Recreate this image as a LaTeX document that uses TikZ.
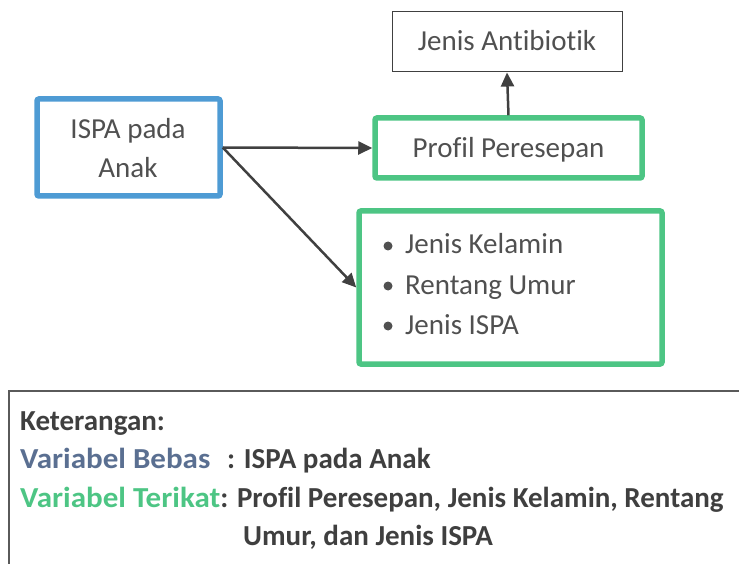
\documentclass[tikz,border=0pt]{standalone}
\usepackage{fontspec}
\setmainfont{Carlito}[RawFeature={-liga;-clig;-dlig}]
\newfontfamily\legvar{Carlito}[FakeStretch=1.07, RawFeature={-liga;-clig;-dlig}]
\usetikzlibrary{arrows.meta}
\definecolor{bblue}{HTML}{4E9BD4}
\definecolor{bgreen}{HTML}{4DC584}
\definecolor{txtc}{HTML}{505050}
\definecolor{legc}{HTML}{3F3F3F}
\definecolor{slate}{HTML}{5A6F91}
\definecolor{arrc}{HTML}{404040}
\definecolor{framec}{HTML}{5A5A5A}
\tikzset{
  bluebox/.style={draw=bblue, line width=5.5pt, rounded corners=2pt},
  greenbox/.style={draw=bgreen, line width=5.5pt, rounded corners=2pt},
  thinbox/.style={draw=arrc, line width=1pt},
  lbl/.style={inner sep=0pt, anchor=base, text=txtc, font=\fontsize{29}{38}\selectfont},
  lbll/.style={lbl, anchor=base west},
  leg/.style={inner sep=0pt, anchor=base west, text=legc, font=\fontsize{29}{38}\selectfont\bfseries},
  bul/.style={circle, fill=txtc, inner sep=0pt, minimum size=9pt},
  conn/.style={draw=arrc, line width=2.5pt, -{Triangle[length=14pt,width=13pt]}}
}
\newcommand{\varlbl}[2]{{\color{#1}\legvar\bfseries #2}}
\begin{document}
\begin{tikzpicture}[x=1pt,y=-1pt]
\useasboundingbox (0,0) rectangle (739,564);
% boxes
\node[bluebox, minimum width=183pt, minimum height=97pt] (ispa) at (128.5,147.5) {};
\node[greenbox, minimum width=267pt, minimum height=60pt] (prof) at (508.5,148) {};
\node[thinbox, minimum width=230pt, minimum height=60pt] (anti) at (507,42) {};
\node[greenbox, minimum width=303pt, minimum height=153pt] (list) at (510.5,287.5) {};
% texts
\node[lbl] (t1) at (128,139) {ISPA pada};
\node[lbl] (t2) at (128,178) {Anak};
\node[lbl] (t3) at (508.5,158) {Profil Peresepan};
\node[lbl] (t4) at (507,51) {Jenis Antibiotik};
\node[bul] (b1) at (388,246) {};
\node[bul] (b2) at (388,286) {};
\node[bul] (b3) at (388,326) {};
\node[lbll] (l1) at (405,254) {Jenis Kelamin};
\node[lbll] (l2) at (405,294) {Rentang Umur};
\node[lbll] (l3) at (405,334) {Jenis ISPA};
% connectors
\draw[conn] (ispa.east) -- (prof.west);
\draw[conn] (ispa.east) -- (list.west);
\draw[conn] (prof.north) -- (anti.south);
% legend frame
\coordinate (fa) at (9,564);
\coordinate (fb) at (9,391);
\coordinate (fc) at (739,391);
\draw[framec, line width=2pt] (fa) -- (fb) -- (fc);
\node[leg] (k0) at (20,430) {Keterangan:};
\node[leg] (k1) at (20,468) {\varlbl{slate}{Variabel Bebas}};
\node[leg] (k2) at (227,468) {: ISPA pada Anak};
\node[leg] (k3) at (20,507) {\varlbl{bgreen}{Variabel Terikat}: Profil Peresepan, Jenis Kelamin, Rentang};
\node[leg] (k4) at (243,545) {Umur, dan Jenis ISPA};
\end{tikzpicture}
\end{document}
